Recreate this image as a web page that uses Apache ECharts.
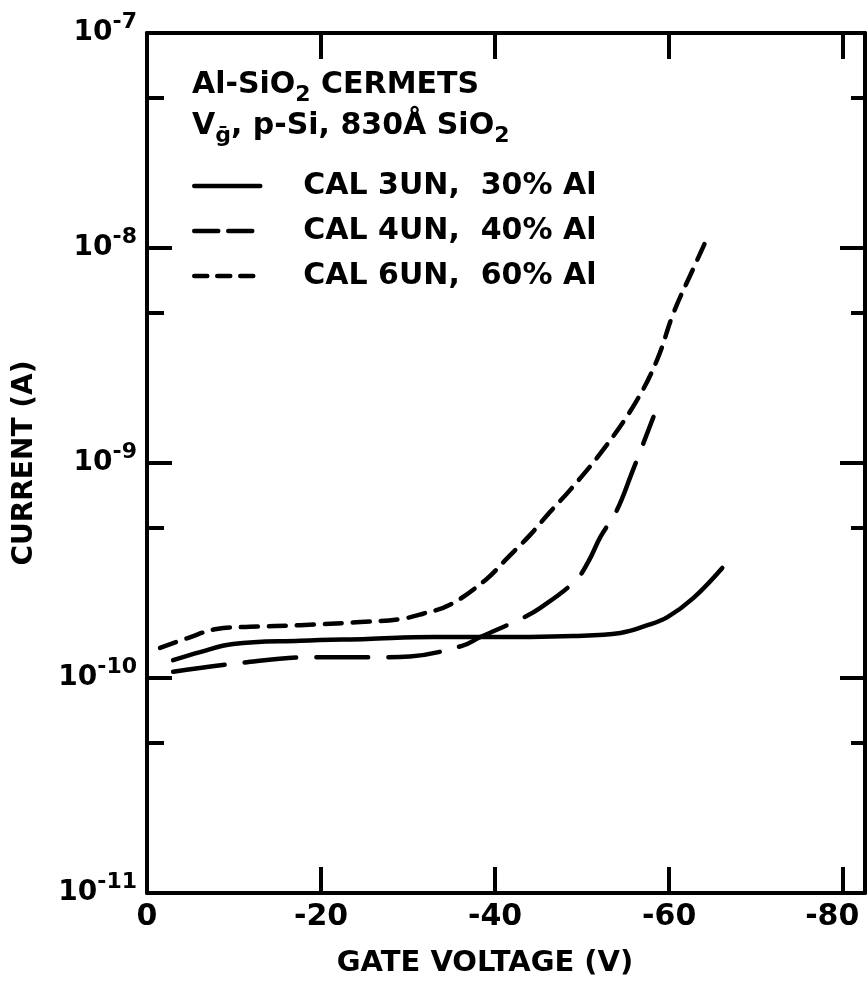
<!DOCTYPE html>
<html>
<head>
<meta charset="utf-8">
<script src="https://cdn.jsdelivr.net/npm/echarts@6/dist/echarts.min.js"></script>
<style>
html,body{margin:0;padding:0;background:#fff;}
#chart{width:868px;height:995px;}
</style>
</head>
<body>
<div id="chart"></div>
<script>
// ---- data (gate voltage in V, current in A) ----
const xTicks = [0, -20, -40, -60, -80];
const seriesNames = ['CAL 3UN,  30% Al', 'CAL 4UN,  40% Al', 'CAL 6UN,  60% Al'];

const cal3V = [-3.0, -6.1, -9.9, -17.6, -25.3, -32.9, -38.3, -49.0, -54.4, -57.5, -59.8, -62.8, -66.1];
const cal3I = [1.21e-10, 1.32e-10, 1.44e-10, 1.49e-10, 1.52e-10, 1.55e-10, 1.55e-10, 1.57e-10, 1.62e-10, 1.76e-10, 1.92e-10, 2.36e-10, 3.25e-10];

const cal4V = [-3.0, -10.3, -19.1, -27.1, -30.2, -36.2, -38.3, -42.9, -45.2, -49.2, -50.7, -52.1, -54.0, -55.7, -58.2];
const cal4I = [1.07e-10, 1.17e-10, 1.25e-10, 1.25e-10, 1.26e-10, 1.41e-10, 1.55e-10, 1.88e-10, 2.12e-10, 2.83e-10, 3.47e-10, 4.53e-10, 6.04e-10, 8.97e-10, 1.64e-9];

const cal6V = [-1.5, -4.6, -8.0, -11.8, -17.6, -24.5, -29.1, -31.7, -34.8, -38.9, -41.4, -44.0, -46.3, -48.6, -52.4, -56.1, -58.6, -60.5, -62.8, -64.4];
const cal6I = [1.38e-10, 1.53e-10, 1.69e-10, 1.73e-10, 1.76e-10, 1.82e-10, 1.88e-10, 1.99e-10, 2.19e-10, 2.86e-10, 3.61e-10, 4.62e-10, 5.92e-10, 7.48e-10, 1.15e-9, 1.90e-9, 3.01e-9, 4.99e-9, 8.07e-9, 1.12e-8];

const yMinorTicks = [5e-8, 5e-9, 5e-10, 5e-11];

// ---- build ----
const FONT = 'DejaVu Sans';
const INK = '#000';
function pairs(xs, ys){ return xs.map((x,i)=>[x, ys[i]]); }

const chart = echarts.init(document.getElementById('chart'), null, {renderer:'canvas'});

const axisLineStyle = {show:true, lineStyle:{color:INK, width:4}};
const tickStyle = {color:INK, width:4};
const minorLog = yMinorTicks.map(v => Math.log10(v));

const option = {
  backgroundColor:'#fff',
  animation:false,
  grid:{left:147, right:3, top:33, bottom:102, containLabel:false, outerBoundsMode:'none'},
  title:{
    left:192, top:65, padding:0,
    text:'{t|Al-SiO}{s|2}{t| CERMETS}\n{t|V}{s|ḡ}{t|, p-Si, 830Å SiO}{s|2}',
    textStyle:{
      fontFamily:FONT, fontWeight:'bold', fontSize:30, color:INK,
      rich:{
        t:{fontFamily:FONT, fontWeight:'bold', fontSize:30, lineHeight:41, verticalAlign:'middle', color:INK},
        s:{fontFamily:FONT, fontWeight:'bold', fontSize:22, lineHeight:22, verticalAlign:'bottom', color:INK}
      }
    }
  },
  legend:{
    orient:'vertical', left:192, top:171, padding:0,
    itemWidth:66, itemHeight:30, itemGap:15,
    itemStyle:{opacity:0},
    textStyle:{fontFamily:FONT, fontWeight:'bold', fontSize:30, color:INK, padding:[0,0,0,38]},
    data:[
      {name:seriesNames[0], lineStyle:{type:'solid', width:4.5, color:INK}},
      {name:seriesNames[1], lineStyle:{type:[24,10], width:4.5, color:INK}},
      {name:seriesNames[2], lineStyle:{type:[13,10], width:4.5, color:INK}}
    ]
  },
  xAxis:[
    {
      type:'value', position:'bottom', min:-82.5, max:0, inverse:true,
      axisLine:axisLineStyle,
      axisTick:{show:true, inside:true, length:26, lineStyle:tickStyle, customValues:xTicks},
      axisLabel:{show:true, customValues:xTicks, margin:9, fontFamily:FONT, fontWeight:'bold', fontSize:30, color:INK,
        formatter:function(v){ return v === -80 ? '{e|' + v + '}' : String(v); },
        rich:{e:{fontFamily:FONT, fontWeight:'bold', fontSize:30, color:INK, padding:[0,22,0,0]}}},
      splitLine:{show:false},
      name:'GATE VOLTAGE (V)', nameLocation:'middle', nameGap:56,
      nameTextStyle:{fontFamily:FONT, fontWeight:'bold', fontSize:29, color:INK, padding:[0,42,0,0]}
    },
    {
      type:'value', position:'top', min:-82.5, max:0, inverse:true,
      axisLine:axisLineStyle,
      axisTick:{show:true, inside:true, length:26, lineStyle:tickStyle, customValues:[-20,-40,-60,-80]},
      axisLabel:{show:false}, splitLine:{show:false}
    }
  ],
  yAxis:[
    {
      type:'log', logBase:10, position:'left', min:1e-11, max:1e-7,
      axisLine:axisLineStyle,
      axisTick:{show:true, inside:true, length:25, lineStyle:tickStyle},
      axisLabel:{show:true, margin:10,
        formatter:function(v){ const e = Math.round(Math.log10(v)); return '{b|10}{s|' + e + '}'; },
        rich:{
          b:{fontFamily:FONT, fontWeight:'bold', fontSize:28, lineHeight:44, verticalAlign:'middle', color:INK},
          s:{fontFamily:FONT, fontWeight:'bold', fontSize:22, lineHeight:22, verticalAlign:'top', color:INK}
        }},
      splitLine:{show:false}, minorTick:{show:false},
      name:'CURRENT (A)', nameLocation:'middle', nameGap:108,
      nameTextStyle:{fontFamily:FONT, fontWeight:'bold', fontSize:28, color:INK}
    },
    {
      type:'value', position:'left', min:-11, max:-7,
      axisLine:{show:false},
      axisTick:{show:true, inside:true, length:17, lineStyle:tickStyle, customValues:minorLog},
      axisLabel:{show:false}, splitLine:{show:false}
    },
    {
      type:'log', logBase:10, position:'right', min:1e-11, max:1e-7,
      axisLine:axisLineStyle,
      axisTick:{show:true, inside:true, length:25, lineStyle:tickStyle},
      axisLabel:{show:false}, splitLine:{show:false}
    },
    {
      type:'value', position:'right', min:-11, max:-7,
      axisLine:{show:false},
      axisTick:{show:true, inside:true, length:14, lineStyle:tickStyle, customValues:minorLog},
      axisLabel:{show:false}, splitLine:{show:false}
    }
  ],
  series:[
    {name:seriesNames[0], type:'line', xAxisIndex:0, yAxisIndex:0, data:pairs(cal3V, cal3I),
     symbol:'none', smooth:0.4, lineStyle:{color:INK, width:4.5, type:'solid', cap:'round'}},
    {name:seriesNames[1], type:'line', xAxisIndex:0, yAxisIndex:0, data:pairs(cal4V, cal4I),
     symbol:'none', smooth:0.4, lineStyle:{color:INK, width:4.5, type:[52,20], cap:'round'}},
    {name:seriesNames[2], type:'line', xAxisIndex:0, yAxisIndex:0, data:pairs(cal6V, cal6I),
     symbol:'none', smooth:0.4, lineStyle:{color:INK, width:4.5, type:[17,11], cap:'round'}}
  ]
};
chart.setOption(option);
</script>
</body>
</html>
